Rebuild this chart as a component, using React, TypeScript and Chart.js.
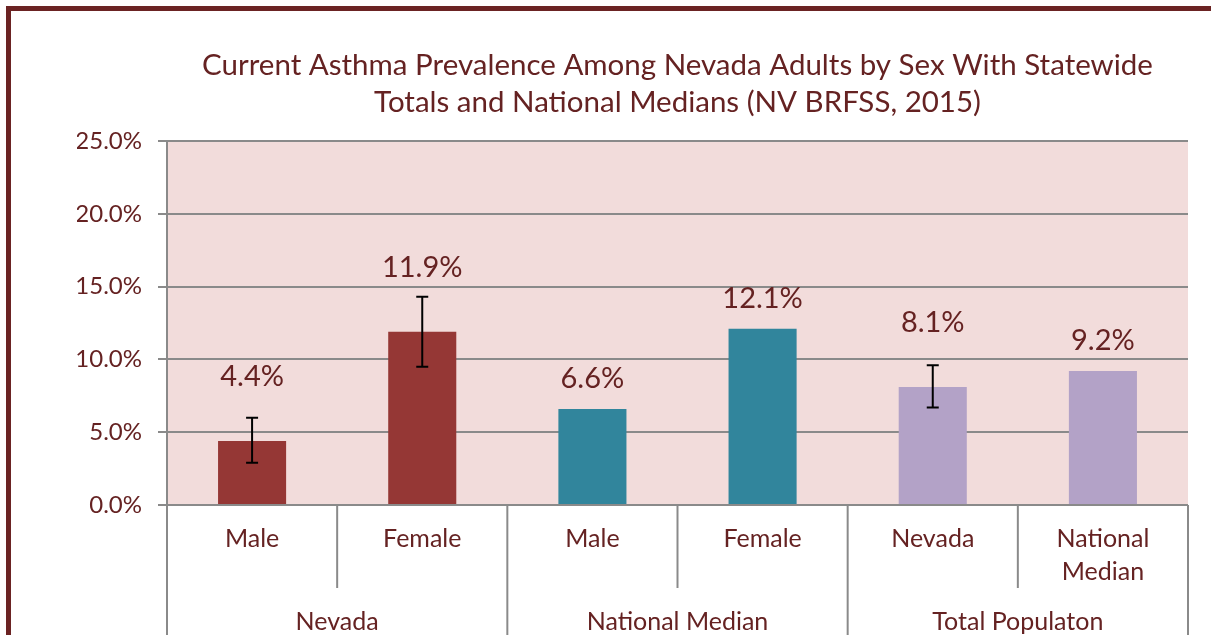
import React, { useEffect, useRef } from "react";
import { Chart, registerables } from "chart.js";
Chart.register(...registerables);

const subCategories: (string | string[])[] = ["Male", "Female", "Male", "Female", "Nevada", ["National", "Median"]];
const groups = ["Nevada", "National Median", "Total Populaton"];
const groupSizes = [2, 2, 2];
const values = [4.4, 11.9, 6.6, 12.1, 8.1, 9.2];
const errLow: (number | null)[] = [2.9, 9.5, null, null, 6.7, null];
const errHigh: (number | null)[] = [6.0, 14.3, null, null, 9.6, null];
const valueLabels = ["4.4%", "11.9%", "6.6%", "12.1%", "8.1%", "9.2%"];
const titleLines = [
  "Current Asthma Prevalence Among Nevada Adults by Sex With Statewide",
  "Totals and National Medians (NV BRFSS, 2015)",
];
const yMin = 0;
const yMax = 25;
const yStep = 5;

const TEXT = "#652222";
const GRID = "#8A8A8A";
const FONT = "Lato";
const barColors = ["#953735", "#953735", "#31859C", "#31859C", "#B3A2C7", "#B3A2C7"];

const decorPlugin = {
  id: "decor",
  beforeDraw(chart: any) {
    const { ctx, chartArea } = chart;
    ctx.save();
    ctx.fillStyle = "#F2DCDB";
    ctx.fillRect(chartArea.left, chartArea.top, chartArea.right - chartArea.left, chartArea.bottom - chartArea.top);
    ctx.restore();
  },
  afterDraw(chart: any) {
    const { ctx, chartArea } = chart;
    const x = chart.scales.x;
    const y = chart.scales.y;
    ctx.save();
    // title
    ctx.fillStyle = TEXT;
    ctx.font = `29.5px ${FONT}`;
    ctx.textAlign = "center";
    ctx.textBaseline = "middle";
    const cx = (chartArea.left + chartArea.right) / 2;
    ctx.fillText(titleLines[0], cx, chartArea.top - 76);
    ctx.fillText(titleLines[1], cx, chartArea.top - 39);

    // error bars
    ctx.strokeStyle = "#000";
    ctx.lineWidth = 2;
    values.forEach((_, i) => {
      const lo = errLow[i];
      const hi = errHigh[i];
      if (lo == null || hi == null) return;
      const px = x.getPixelForValue(i);
      const yl = y.getPixelForValue(lo);
      const yh = y.getPixelForValue(hi);
      ctx.beginPath();
      ctx.moveTo(px, yl);
      ctx.lineTo(px, yh);
      ctx.moveTo(px - 6, yl);
      ctx.lineTo(px + 6, yl);
      ctx.moveTo(px - 6, yh);
      ctx.lineTo(px + 6, yh);
      ctx.stroke();
    });

    // value labels
    ctx.font = `29px ${FONT}`;
    ctx.fillStyle = TEXT;
    values.forEach((v, i) => {
      const px = x.getPixelForValue(i);
      const top = y.getPixelForValue(v);
      const lift = errHigh[i] != null ? 64 : 30;
      ctx.fillText(valueLabels[i], px, top - lift);
    });

    // category axis
    const bottom = chart.height;
    const axisTop = chartArea.bottom;
    ctx.strokeStyle = GRID;
    ctx.lineWidth = 2;
    ctx.beginPath();
    ctx.moveTo(chartArea.left, axisTop);
    ctx.lineTo(chartArea.left, bottom);
    ctx.stroke();
    const groupEdges = new Set<number>();
    let acc = 0;
    groupSizes.forEach((s) => {
      acc += s;
      groupEdges.add(acc);
    });
    for (let i = 1; i <= values.length; i++) {
      const bx = x.getPixelForValue(i - 0.5);
      ctx.beginPath();
      ctx.moveTo(bx, axisTop);
      ctx.lineTo(bx, groupEdges.has(i) ? bottom : axisTop + 83);
      ctx.stroke();
    }
    ctx.fillStyle = TEXT;
    ctx.font = `25px ${FONT}`;
    subCategories.forEach((lab, i) => {
      const px = x.getPixelForValue(i);
      const lines = Array.isArray(lab) ? lab : [lab];
      lines.forEach((ln, k) => ctx.fillText(ln, px, axisTop + 34 + k * 33));
    });
    let start = 0;
    groups.forEach((g, gi) => {
      const end = start + groupSizes[gi];
      const gx = (x.getPixelForValue(start - 0.5) + x.getPixelForValue(end - 0.5)) / 2;
      ctx.fillText(g, gx, axisTop + 117);
      start = end;
    });
    ctx.restore();
  },
};

export default function App() {
  const ref = useRef<HTMLCanvasElement | null>(null);
  useEffect(() => {
    if (!ref.current) return;
    const chart = new Chart(ref.current, {
      type: "bar",
      data: {
        labels: subCategories.map((l) => (Array.isArray(l) ? l.join(" ") : l)),
        datasets: [
          {
            data: values,
            backgroundColor: barColors,
            borderWidth: 0,
            categoryPercentage: 1,
            barPercentage: 0.4,
          },
        ],
      },
      options: {
        animation: false,
        responsive: false,
        maintainAspectRatio: false,
        layout: { padding: { left: 77, right: 23, top: 141, bottom: 130 } },
        plugins: { legend: { display: false }, tooltip: { enabled: false }, title: { display: false } },
        scales: {
          x: { display: false },
          y: {
            min: yMin,
            max: yMax,
            afterFit: (s: any) => {
              s.width = 90;
            },
            ticks: {
              stepSize: yStep,
              color: TEXT,
              font: { family: FONT, size: 24 },
              padding: 16,
              callback: (v: any) => Number(v).toFixed(1) + "%",
            },
            grid: { color: GRID, lineWidth: 2, tickLength: 9, drawTicks: true },
            border: { display: true, color: GRID, width: 2 },
          },
        },
      },
      plugins: [decorPlugin],
    });
    return () => chart.destroy();
  }, []);
  return (
    <div style={{ position: "fixed", left: 0, top: 0, width: 1211, height: 635, overflow: "hidden", background: "#fff" }}>
      <canvas ref={ref} width={1211} height={635} style={{ position: "absolute", left: 0, top: 0 }} />
      <div
        style={{
          position: "absolute",
          left: 6,
          top: 6,
          width: 1400,
          height: 900,
          border: "5px solid #6B2323",
          pointerEvents: "none",
        }}
      />
    </div>
  );
}
